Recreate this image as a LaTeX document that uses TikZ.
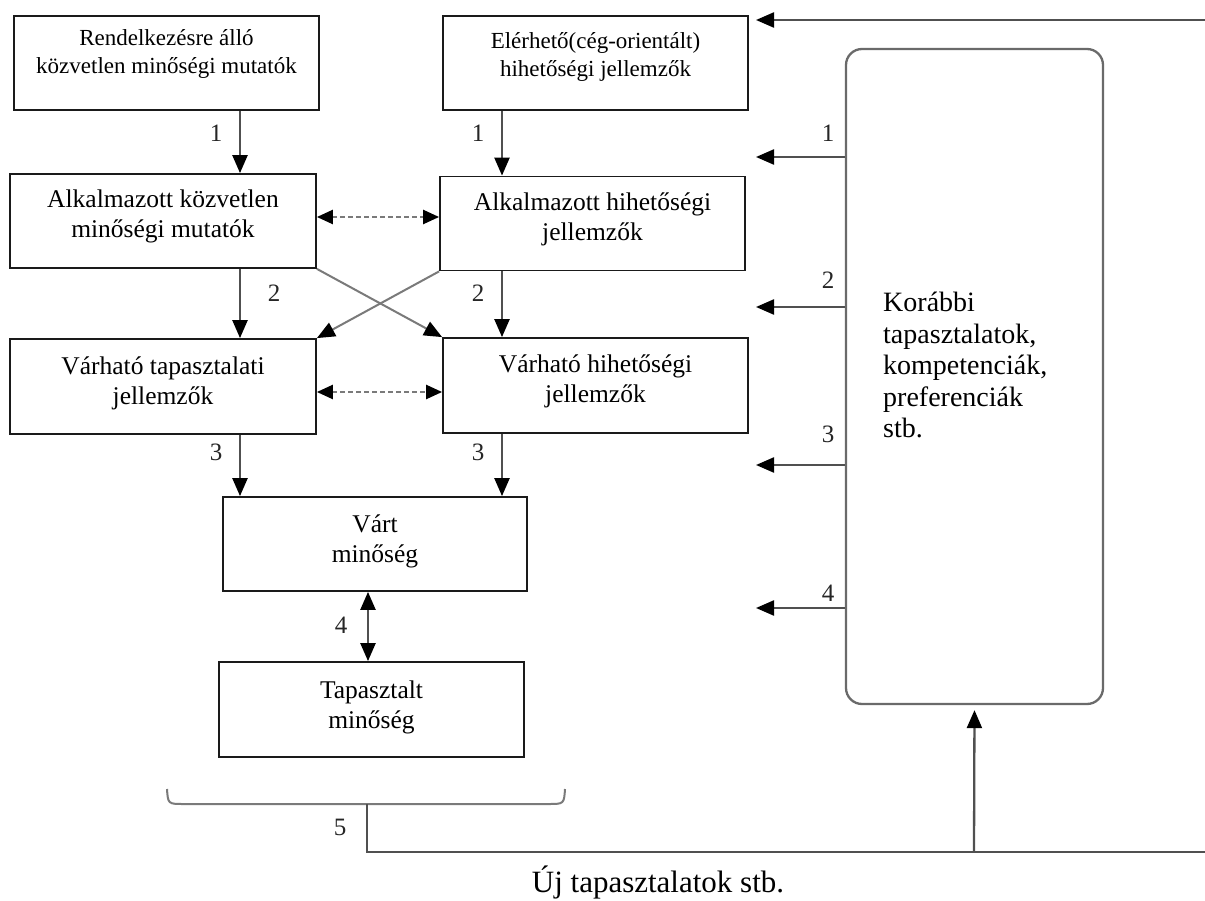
\documentclass[tikz,border=0pt]{standalone}
\usepackage{fontspec}
\setmainfont{Liberation Serif}
\usetikzlibrary{arrows.meta,calc}
\definecolor{conn}{HTML}{505050}
\definecolor{cross}{HTML}{7A7A7A}
\definecolor{boxline}{HTML}{1A1A1A}
\definecolor{rbline}{HTML}{6A6A6A}
\begin{document}
\begin{tikzpicture}[x=1pt,y=-1pt,
  box/.style={draw=boxline,line width=1.8pt,inner sep=0pt,fill=white},
  boxtext/.style={align=center,inner sep=0pt,font=\fontsize{25.5}{30}\selectfont},
  smalltext/.style={align=center,inner sep=0pt,font=\fontsize{23}{28}\selectfont},
  numlab/.style={inner sep=0pt,font=\fontsize{25}{30}\selectfont,text=black!85},
  tip/.style={Triangle[length=18pt,width=15pt,color=black]},
  arr/.style={draw=conn,line width=2.3pt,-{Triangle[length=18pt,width=15pt,color=black]}},
  darr/.style={draw=cross,line width=2.3pt,dash pattern=on 5pt off 3pt,{Triangle[length=16pt,width=14pt,color=black]}-{Triangle[length=16pt,width=14pt,color=black]}},
  crossarr/.style={draw=cross,line width=2pt,-{Triangle[length=18pt,width=15pt,color=black]}},
  plain/.style={draw=conn,line width=2.3pt}]
\useasboundingbox[fill=white] (0,0) rectangle (1205,901);

% boxes
\node[box,minimum width=305pt,minimum height=94pt] (b1) at (166.5,63) {};
\node[box,minimum width=305pt,minimum height=94pt] (b2) at (595.5,63) {};
\node[box,minimum width=306pt,minimum height=94pt] (b3) at (163,221) {};
\node[box,minimum width=305pt,minimum height=94pt] (b4) at (592.5,223.5) {};
\node[box,minimum width=306pt,minimum height=95pt] (b5) at (163,386.5) {};
\node[box,minimum width=305pt,minimum height=95pt] (b6) at (595.5,385.5) {};
\node[box,minimum width=304pt,minimum height=94pt] (b7) at (375,544) {};
\node[box,minimum width=305pt,minimum height=95pt] (b8) at (371.5,709.5) {};
\node[draw=rbline,line width=2.3pt,rounded corners=16pt,minimum width=257pt,minimum height=655pt,inner sep=0pt] (rb) at (974.5,376.5) {};

% box texts
\node[smalltext] (t1) at (166.5,54) {Rendelkezésre álló\\közvetlen minőségi mutatók};
\node[smalltext] (t2) at (595.5,57) {Elérhető(cég-orientált)\\hihetőségi jellemzők};
\node[boxtext] (t3) at (163,216) {Alkalmazott közvetlen\\minőségi mutatók};
\node[boxtext] (t4) at (592.5,219) {Alkalmazott hihetőségi\\jellemzők};
\node[boxtext] (t5) at (163,383) {Várható tapasztalati\\jellemzők};
\node[boxtext] (t6) at (595.5,381) {Várható hihetőségi\\jellemzők};
\node[boxtext] (t7) at (375,541) {Várt\\minőség};
\node[boxtext] (t8) at (371.5,707) {Tapasztalt\\minőség};
\node[align=left,anchor=north west,inner sep=0pt,font=\fontsize{28}{31.5}\selectfont] (tr) at (883,292)
  {Korábbi\\tapasztalatok,\\kompetenciák,\\preferenciák\\stb.};

% helper coordinates
\coordinate (L) at (240,0);
\coordinate (R) at (502,0);
\coordinate (M) at (368,0);
\coordinate (D1) at (0,217);
\coordinate (D2) at (0,392);

% vertical arrows
\draw[arr] (b1.south -| L) -- (b3.north -| L);
\draw[arr] (b2.south -| R) -- (b4.north -| R);
\draw[arr] (b3.south -| L) -- (b5.north -| L);
\draw[arr] (b4.south -| R) -- (b6.north -| R);
\draw[arr] (b5.south -| L) -- (b7.north -| L);
\draw[arr] (b6.south -| R) -- (b7.north -| R);

% crossing arrows
\draw[crossarr] (b3.south east) -- (b6.north west);
\draw[crossarr] (b4.south west) -- (b5.north east);

% dashed double arrows
\draw[darr] (b3.east |- D1) -- (b4.west |- D1);
\draw[darr] (b5.east |- D2) -- (b6.west |- D2);

% double arrow 4
\draw[arr,{Triangle[length=18pt,width=15pt,color=black]}-{Triangle[length=18pt,width=15pt,color=black]}] (b7.south -| M) -- (b8.north -| M);

% arrows from the right box
\coordinate (a1) at (756,157);
\coordinate (a2) at (756,307);
\coordinate (a3) at (756,465);
\coordinate (a4) at (756,608);
\draw[arr] (rb.west |- a1) -- (a1);
\draw[arr] (rb.west |- a2) -- (a2);
\draw[arr] (rb.west |- a3) -- (a3);
\draw[arr] (rb.west |- a4) -- (a4);

% top arrow
\coordinate (topR) at (1205,20);
\coordinate (topT) at (756,20);
\draw[arr] (topR) -- (topT);

% bracket and feedback line
\coordinate (brL) at (167,789);
\coordinate (brR) at (565,789);
\coordinate (bm) at (367,804);
\coordinate (fb) at (367,852);
\coordinate (fbR) at (1205,852);
\coordinate (up) at (974,852);
\draw[draw=cross,line width=2pt] (brL) .. controls (168,804) .. (184,804) -- (548,804) .. controls (564,804) .. (brR);
\draw[plain] (bm) -- (fb) -- (fbR);
\draw[arr,shorten >=5pt] (up) -- (rb.south);

% number labels
\node[numlab] (n1a) at (216,133) {1};
\node[numlab] (n1b) at (478,133) {1};
\node[numlab] (n2a) at (274,293) {2};
\node[numlab] (n2b) at (478,293) {2};
\node[numlab] (n3a) at (216,452) {3};
\node[numlab] (n3b) at (478,452) {3};
\node[numlab] (n4) at (341,625) {4};
\node[numlab] (n5) at (340,827) {5};
\node[numlab] (r1) at (828,133) {1};
\node[numlab] (r2) at (828,280) {2};
\node[numlab] (r3) at (828,434) {3};
\node[numlab] (r4) at (828,593) {4};

% bottom caption
\node[anchor=base,inner sep=0pt,font=\fontsize{31}{36}\selectfont] (cap) at (658,892) {Új tapasztalatok stb.};
\end{tikzpicture}
\end{document}
